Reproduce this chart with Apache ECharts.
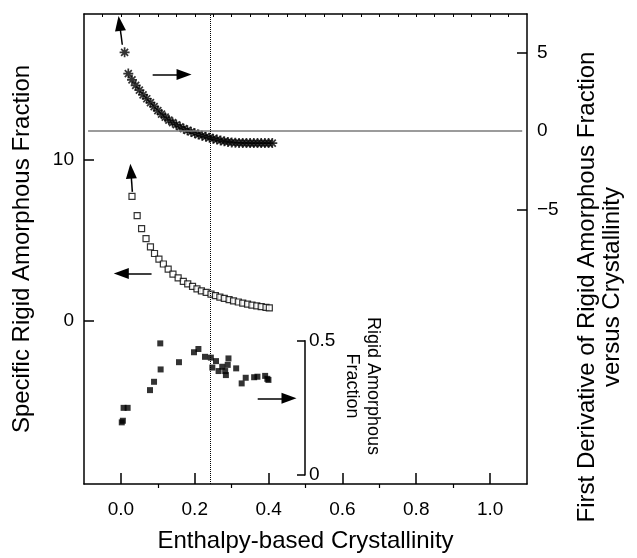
<!DOCTYPE html>
<html>
<head>
<meta charset="utf-8">
<script src="https://cdn.jsdelivr.net/npm/echarts@6/dist/echarts.min.js"></script>
<style>
html,body{margin:0;padding:0;background:#fff;}
#c{width:637px;height:558px;}
</style>
</head>
<body>
<div id="c"></div>
<script>
// ---- data ----
const xTickLabels = [0, 0.2, 0.4, 0.6, 0.8, 1.0];
const xMinorTicks = [0.1, 0.3, 0.5, 0.7, 0.9];
const topTicks = [-0.05,0,0.05,0.1,0.15,0.2,0.25,0.3,0.35,0.4,0.45,0.5,0.55,0.6,0.65,0.7,0.75,0.8,0.85,0.9,0.95,1.0,1.05];
const leftTickLabels = [0, 10];
const rightTickLabels = [-5, 0, 5];
const innerTickLabels = [0, 0.5];

// first derivative (asterisks, right axis)
const derivX = [0.010,0.020,0.030,0.040,0.050,0.060,0.070,0.080,0.090,0.100,0.110,0.120,0.130,0.140,0.150,0.160,0.170,0.180,0.190,0.200,0.210,0.220,0.230,0.240,0.250,0.260,0.270,0.280,0.290,0.300,0.310,0.320,0.330,0.340,0.350,0.360,0.370,0.380,0.390,0.400,0.410];
const derivY = [5.00,3.65,3.25,2.90,2.60,2.30,2.05,1.80,1.55,1.30,1.08,0.88,0.70,0.54,0.40,0.27,0.15,0.05,-0.05,-0.14,-0.22,-0.29,-0.36,-0.42,-0.48,-0.54,-0.60,-0.65,-0.69,-0.72,-0.74,-0.75,-0.75,-0.76,-0.76,-0.76,-0.76,-0.76,-0.76,-0.76,-0.76];

// specific rigid amorphous fraction (open squares, left axis)
const specX = [0.030,0.044,0.056,0.068,0.080,0.091,0.103,0.115,0.128,0.141,0.155,0.169,0.181,0.194,0.206,0.218,0.231,0.244,0.256,0.268,0.280,0.293,0.305,0.318,0.330,0.343,0.355,0.368,0.380,0.393,0.402];
const specY = [7.71,6.52,5.71,5.09,4.58,4.17,3.82,3.52,3.21,2.90,2.66,2.45,2.29,2.13,1.98,1.86,1.76,1.66,1.56,1.47,1.39,1.31,1.24,1.17,1.10,1.04,0.98,0.93,0.88,0.84,0.81];

// rigid amorphous fraction (filled squares, inner axis)
const rafX = [0.003,0.006,0.008,0.019,0.080,0.091,0.108,0.109,0.159,0.200,0.212,0.230,0.246,0.250,0.260,0.267,0.277,0.285,0.287,0.292,0.294,0.315,0.330,0.341,0.364,0.373,0.394,0.400,0.403];
const rafY = [0.196,0.202,0.250,0.250,0.316,0.347,0.490,0.393,0.420,0.457,0.469,0.440,0.437,0.400,0.424,0.387,0.403,0.387,0.372,0.410,0.434,0.397,0.341,0.362,0.364,0.366,0.369,0.358,0.354];

const zip = (xs, ys) => xs.map((x, i) => [x, ys[i]]);
const FONT = "'Liberation Sans', Arial, sans-serif";
const asteriskPath = 'path://M0,5L10,5M5,0L5,10M1.5,1.5L8.5,8.5M8.5,1.5L1.5,8.5';
const arrowEnd = (a, b) => [
  {coord: a, symbol: 'none'},
  {coord: b, symbol: 'triangle', symbolSize: [11, 15]}
];

const chart = echarts.init(document.getElementById('c'), null, {renderer: 'canvas'});
const blackLine = {show: true, onZero: false, lineStyle: {color: '#000', width: 1.5}};

chart.setOption({
  animation: false,
  backgroundColor: '#fff',
  textStyle: {fontFamily: FONT},
  grid: [
    {left: 84, right: 110, top: 14, bottom: 70},
    {left: 84, width: 221, top: 340.7, height: 134.3},
    {left: 84, right: 110, top: 14, bottom: 70}
  ],
  graphic: [
    {
      type: 'text', x: 600, y: 287, rotation: Math.PI / 2, silent: true,
      style: {text: 'First Derivative of Rigid Amorphous Fraction\nversus Crystallinity',
        font: "24px 'Liberation Sans', Arial, sans-serif", fill: '#000',
        align: 'center', verticalAlign: 'middle', lineHeight: 25}
    },
    {
      type: 'text', x: 362.5, y: 386, rotation: -Math.PI / 2, silent: true,
      style: {text: 'Rigid Amorphous\nFraction',
        font: "18px 'Liberation Sans', Arial, sans-serif", fill: '#000',
        align: 'center', verticalAlign: 'middle', lineHeight: 21}
    }
  ],
  xAxis: [
    {
      gridIndex: 0, type: 'value', position: 'bottom', min: -0.1, max: 1.1,
      name: 'Enthalpy-based Crystallinity', nameLocation: 'middle', nameGap: 45,
      nameTextStyle: {fontSize: 24, color: '#000', fontFamily: FONT},
      axisLine: blackLine,
      axisTick: {show: true, inside: true, length: 11, customValues: xTickLabels, lineStyle: {color: '#000', width: 1.5}},
      axisLabel: {show: true, customValues: xTickLabels, fontSize: 19, color: '#000', margin: 16, fontFamily: FONT,
        formatter: v => v.toFixed(1)},
      splitLine: {show: false}
    },
    {
      gridIndex: 0, type: 'value', position: 'top', min: -0.1, max: 1.1,
      axisLine: blackLine,
      axisTick: {show: true, inside: true, length: 3, customValues: topTicks, lineStyle: {color: '#000', width: 1}},
      axisLabel: {show: false},
      splitLine: {show: false}
    },
    {
      gridIndex: 1, type: 'value', min: -0.1, max: 0.5027, show: false,
      axisLine: {show: false, onZero: false}
    },
    {
      gridIndex: 2, type: 'value', position: 'bottom', min: -0.1, max: 1.1,
      axisLine: {show: false, onZero: false},
      axisTick: {show: true, inside: true, length: 4, customValues: xMinorTicks, lineStyle: {color: '#000', width: 1.2}},
      axisLabel: {show: false},
      splitLine: {show: false}
    }
  ],
  yAxis: [
    {
      gridIndex: 0, type: 'value', position: 'left', min: -10.1, max: 19,
      name: 'Specific Rigid Amorphous Fraction', nameLocation: 'middle', nameGap: 50, nameRotate: 90,
      nameTextStyle: {fontSize: 24, color: '#000', fontFamily: FONT},
      axisLine: blackLine,
      axisTick: {show: true, inside: true, length: 10, customValues: leftTickLabels, lineStyle: {color: '#000', width: 1.5}},
      axisLabel: {show: true, customValues: leftTickLabels, fontSize: 19, color: '#000', margin: 10, fontFamily: FONT},
      splitLine: {show: false}
    },
    {
      gridIndex: 0, type: 'value', position: 'right', min: -22.4, max: 7.43,
      axisLine: blackLine,
      axisTick: {show: true, inside: true, length: 10, customValues: [-5, 5], lineStyle: {color: '#000', width: 1.5}},
      axisLabel: {show: true, customValues: rightTickLabels, fontSize: 19, color: '#000', margin: 10, fontFamily: FONT,
        formatter: v => v < 0 ? '\u2212' + Math.abs(v) : String(v)},
      splitLine: {show: false}
    },
    {
      gridIndex: 1, type: 'value', position: 'right', min: 0, max: 0.5,
      axisLine: {show: true, onZero: false, lineStyle: {color: '#000', width: 1.5}},
      axisTick: {show: true, inside: true, length: 8, customValues: innerTickLabels, lineStyle: {color: '#000', width: 1.5}},
      axisLabel: {show: true, customValues: innerTickLabels, fontSize: 19, color: '#000', margin: 4, fontFamily: FONT,
        formatter: v => v === 0 ? '0' : String(v)},
      splitLine: {show: false}
    },
    {
      gridIndex: 2, type: 'value', min: 0, max: 1, show: false,
      axisLine: {show: false, onZero: false}
    }
  ],
  series: [
    {
      type: 'scatter', name: 'derivative', xAxisIndex: 0, yAxisIndex: 1,
      data: zip(derivX, derivY),
      symbol: asteriskPath, symbolSize: 10,
      itemStyle: {color: 'rgba(0,0,0,0)', borderColor: '#000', borderWidth: 1.7},
      clip: false, silent: true, z: 3,
      markLine: {
        silent: true, animation: false, symbol: ['none', 'none'],
        label: {show: false},
        lineStyle: {color: '#000', width: 1.5, type: 'solid'},
        data: [
          [{coord: [-0.089, 0], symbol: 'none', lineStyle: {color: '#7a7a7a', width: 1.5}}, {coord: [1.087, 0], symbol: 'none'}],
          arrowEnd([0.0038, 5.48], [-0.0038, 6.83]),
          arrowEnd([0.086, 3.59], [0.171, 3.59])
        ]
      }
    },
    {
      type: 'scatter', name: 'specific', xAxisIndex: 0, yAxisIndex: 0,
      data: zip(specX, specY),
      symbol: 'rect', symbolSize: 6,
      itemStyle: {color: '#fff', borderColor: '#000', borderWidth: 1.2},
      clip: false, silent: true, z: 3,
      markLine: {
        silent: true, animation: false, symbol: ['none', 'none'],
        label: {show: false},
        lineStyle: {color: '#000', width: 1.5, type: 'solid'},
        data: [
          [{coord: [0.2415, -10.1], symbol: 'none', lineStyle: {color: '#000', width: 1, type: [1, 1]}}, {coord: [0.2415, 19], symbol: 'none'}],
          arrowEnd([0.031, 7.99], [0.027, 9.27]),
          arrowEnd([0.083, 2.93], [0.001, 2.93])
        ]
      }
    },
    {
      type: 'scatter', name: 'raf', xAxisIndex: 2, yAxisIndex: 2,
      data: zip(rafX, rafY),
      symbol: 'rect', symbolSize: 6,
      itemStyle: {color: '#000'},
      clip: false, silent: true, z: 3,
      markLine: {
        silent: true, animation: false, symbol: ['none', 'none'],
        label: {show: false},
        lineStyle: {color: '#000', width: 1.5, type: 'solid'},
        data: [
          arrowEnd([0.3737, 0.2856], [0.459, 0.2856])
        ]
      }
    }
  ]
});
</script>
</body>
</html>
